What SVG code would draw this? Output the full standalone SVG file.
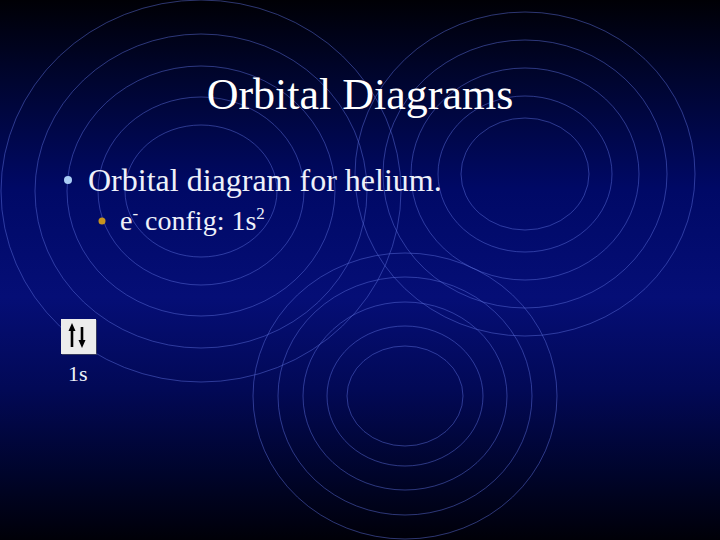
<svg xmlns="http://www.w3.org/2000/svg" width="720" height="540" viewBox="0 0 720 540">
  <style>
    .ring { fill: none; stroke: #5a6cd8; stroke-opacity: 0.5; stroke-width: 1; }
    .serif { font-family: "Liberation Serif", "Times New Roman", serif; }
    .title { font-size: 44px; fill: #ffffff; }
    .body { fill: #eef1fa; }
    .shaft { stroke: #000; stroke-width: 2.6; }
    .head { fill: #000; }
  </style>
  <defs>
    <linearGradient id="bg" x1="0" y1="0" x2="0" y2="1">
      <stop offset="0" stop-color="#000005"/>
      <stop offset="0.15" stop-color="#000530"/>
      <stop offset="0.35" stop-color="#000966"/>
      <stop offset="0.55" stop-color="#050e76"/>
      <stop offset="0.72" stop-color="#020956"/>
      <stop offset="0.88" stop-color="#00042a"/>
      <stop offset="1" stop-color="#000008"/>
    </linearGradient>
  </defs>

  <rect id="background" x="0" y="0" width="720" height="540" fill="url(#bg)"/>

  <g id="rings-left">
    <ellipse class="ring" cx="201" cy="191" rx="76" ry="66"/>
    <ellipse class="ring" cx="201" cy="191" rx="103" ry="94"/>
    <ellipse class="ring" cx="201" cy="191" rx="134" ry="125"/>
    <ellipse class="ring" cx="201" cy="191" rx="166" ry="157"/>
    <ellipse class="ring" cx="201" cy="191" rx="200" ry="191"/>
  </g>
  <g id="rings-right">
    <ellipse class="ring" cx="525" cy="174" rx="64" ry="56"/>
    <ellipse class="ring" cx="525" cy="174" rx="87" ry="78"/>
    <ellipse class="ring" cx="525" cy="174" rx="114" ry="106"/>
    <ellipse class="ring" cx="525" cy="174" rx="142" ry="134"/>
    <ellipse class="ring" cx="525" cy="174" rx="170" ry="162"/>
  </g>
  <g id="rings-bottom">
    <ellipse class="ring" cx="405" cy="396" rx="58" ry="50"/>
    <ellipse class="ring" cx="405" cy="396" rx="78" ry="70"/>
    <ellipse class="ring" cx="405" cy="396" rx="102" ry="94"/>
    <ellipse class="ring" cx="405" cy="396" rx="127" ry="119"/>
    <ellipse class="ring" cx="405" cy="396" rx="152" ry="143"/>
  </g>

  <g id="title">
    <text class="serif title" x="360" y="109" text-anchor="middle">Orbital Diagrams</text>
  </g>

  <g id="bullet-1">
    <circle cx="68" cy="180" r="4" fill="#a9cdf5"/>
    <text class="serif body" x="88" y="191" font-size="32">Orbital diagram for helium.</text>
  </g>

  <g id="bullet-2">
    <circle cx="102" cy="221" r="3.5" fill="#c8941e"/>
    <text class="serif body" x="120" y="230" font-size="28">e<tspan font-size="17" dy="-11">-</tspan><tspan dy="11"> config: 1s</tspan><tspan font-size="17" dy="-11">2</tspan></text>
  </g>

  <g id="orbital-1s">
    <rect x="62" y="320" width="35" height="35" fill="#5a5a5a" opacity="0.6"/>
    <rect x="61" y="319" width="35" height="35" fill="#ececec"/>
    <line class="shaft" x1="72" y1="330" x2="72" y2="347"/>
    <polygon class="head" points="68.5,331 75.5,331 72,323"/>
    <line class="shaft" x1="82" y1="327" x2="82" y2="341"/>
    <polygon class="head" points="78.5,340 85.5,340 82,348"/>
    <text class="serif body" x="68" y="381" font-size="22">1s</text>
  </g>
</svg>
